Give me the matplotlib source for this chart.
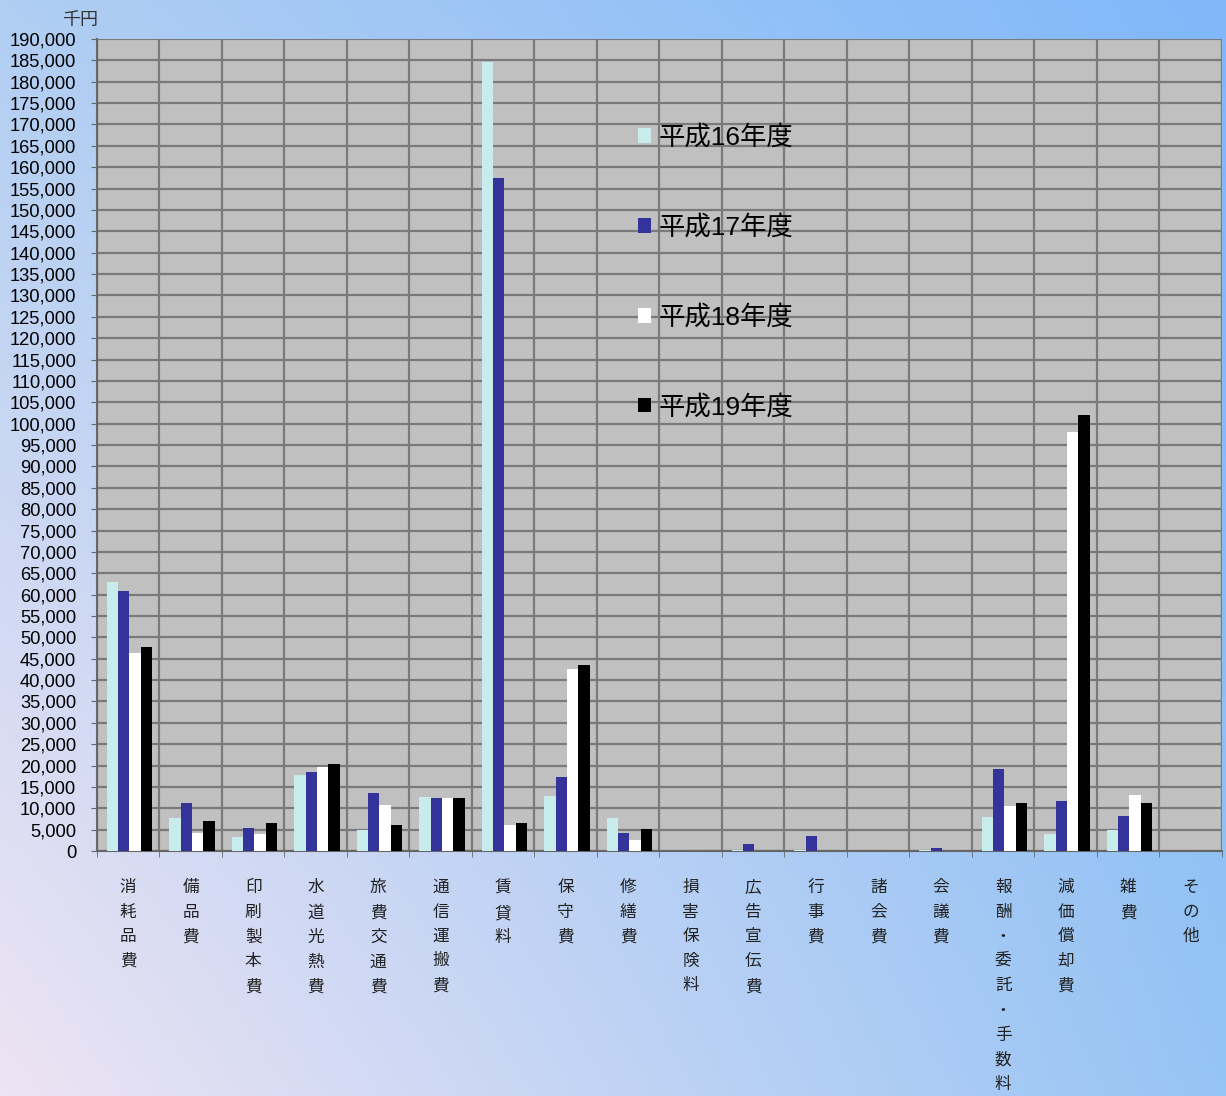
import numpy as np
import matplotlib
matplotlib.use("Agg")
import matplotlib.pyplot as plt

plt.rcParams['font.family'] = ['Liberation Sans', 'Noto Sans CJK JP']

# categories and yearly values (thousand yen)
categories = ["消耗品費", "備品費", "印刷製本費", "水道光熱費", "旅費交通費", "通信運搬費",
              "賃貸料", "保守費", "修繕費", "損害保険料", "広告宣伝費", "行事費",
              "諸会費", "会議費", "報酬・委託・手数料", "減価償却費", "雑費", "その他"]
years = ["平成16年度", "平成17年度", "平成18年度", "平成19年度"]
h16 = [63000, 7700, 3300, 17800, 4900, 12600, 184600, 12800, 7700, 0, 300, 300, 0, 200, 8000, 4100, 5000, 0]
h17 = [60800, 11200, 5400, 18500, 13600, 12400, 157500, 17300, 4200, 0, 1600, 3500, 0, 600, 19200, 11700, 8200, 0]
h18 = [46300, 4300, 4000, 19700, 10800, 12400, 6100, 42600, 2600, 0, 0, 0, 0, 0, 10600, 98000, 13100, 0]
h19 = [47700, 7000, 6500, 20300, 6100, 12300, 6500, 43500, 5100, 0, 0, 0, 0, 0, 11200, 102000, 11200, 0]
colors = ["#c8ecec", "#333399", "#ffffff", "#000000"]

fig = plt.figure(figsize=(12.26, 10.96), dpi=100)

# gradient background
bg = fig.add_axes([0, 0, 1, 1], zorder=-10)
tl = np.array([176, 206, 242]) / 255.0
tr = np.array([128, 184, 250]) / 255.0
bl = np.array([238, 228, 244]) / 255.0
br = np.array([150, 196, 244]) / 255.0
u = np.linspace(0, 1, 200)[None, :, None]
v = np.linspace(0, 1, 200)[:, None, None]
img = (1 - v) * ((1 - u) * tl + u * tr) + v * ((1 - u) * bl + u * br)
bg.imshow(img, aspect='auto', extent=[0, 1, 0, 1])
bg.axis('off')

ax = fig.add_axes([0.0791, 0.2235, 0.9176, 0.7409])
ax.set_facecolor("#c0c0c0")

x = np.arange(len(categories))
w = 0.182
series = [h16, h17, h18, h19]
bars = []
for i, (vals, c) in enumerate(zip(series, colors)):
    b = ax.bar(x + (i - 1.5) * w + 0.02, vals, width=w, color=c, zorder=3, linewidth=0)
    bars.append(b)

ax.set_xlim(-0.5, len(categories) - 0.5)
ax.set_ylim(0, 190000)
yt = np.arange(0, 190001, 5000)
ax.set_yticks(yt)
ax.set_yticklabels([f"{v:,}" for v in yt], fontsize=13.2)
ax.set_xticks(x)
ax.set_xticklabels(["\n".join(c) for c in categories], fontsize=12,
                   linespacing=1.78, va='top', color="#222222")
ax.set_xticks(np.arange(-0.5, len(categories), 1), minor=True)
ax.tick_params(axis='x', which='major', length=0, pad=21)
ax.tick_params(axis='x', which='minor', length=4, color="#666666")
ax.tick_params(axis='y', length=4, color="#666666", pad=11)
ax.grid(axis='y', color="#7a7a7a", linewidth=1.6, zorder=1)
ax.grid(axis='x', which='minor', color="#7a7a7a", linewidth=1.6, zorder=1)
for s in ['top', 'right']:
    ax.spines[s].set_visible(False)
for s in ['left', 'bottom']:
    ax.spines[s].set_color("#666666")
    ax.spines[s].set_linewidth(1.5)

ax.text(-0.015, 1.012, "千円", transform=ax.transAxes, fontsize=13, ha='center',
        va='bottom', color="#333333")

leg = ax.legend(bars, years, loc='upper left', bbox_to_anchor=(0.46, 0.923),
                frameon=False, fontsize=19, handlelength=0.48, handleheight=0.48,
                handletextpad=0.28, labelspacing=2.46)

fig.savefig("out.png", dpi=100)
